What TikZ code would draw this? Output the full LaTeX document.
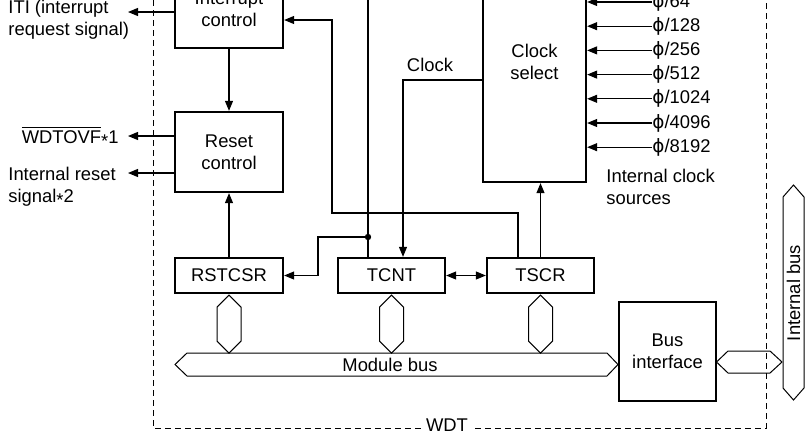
\documentclass[tikz,border=0pt]{standalone}
\usepackage{fontspec}
\setmainfont{Liberation Sans}
\newfontfamily\phifont{DejaVu Sans}
\usetikzlibrary{arrows.meta}
\newcommand{\mystar}{\raisebox{-0.22em}{*}}
\begin{document}
\begin{tikzpicture}[x=0.5pt,y=-0.5pt,
  every node/.style={font=\fontsize{9.2}{11.2}\selectfont},
  blk/.style={draw,line width=1.15pt,align=center,inner sep=0pt},
  conn/.style={line width=0.55pt},
  arr/.style={conn,-{Triangle[length=5pt,width=4pt]}},
  darr/.style={conn,{Triangle[length=5pt,width=4pt]}-{Triangle[length=5pt,width=4pt]}},
  busline/.style={line width=0.5pt},
  wdtline/.style={line width=0.5pt,dash pattern=on 3pt off 2pt},
  lbl/.style={align=left,inner sep=0pt}]
\useasboundingbox (0,0) rectangle (809,434);
\clip (0,0) rectangle (809,434);

% WDT boundary
\draw[wdtline] (153,-20) -- (153,428) -- (766,428) -- (766,-20);
\node[fill=white,inner sep=1.5pt] (wdt) at (447,425.5) {WDT};

% blocks
\node[blk,minimum width=54pt,minimum height=39pt] (intc) at (229,9) {Interrupt\\control};
\node[blk,minimum width=54pt,minimum height=40pt] (rstc) at (229,152) {Reset\\control};
\node[blk,minimum width=51.5pt,minimum height=120pt] (clks) at (534.5,62) {Clock\\select};
\node[blk,minimum width=54pt,minimum height=17.5pt] (rstcsr) at (229,275.5) {RSTCSR};
\node[blk,minimum width=53.5pt,minimum height=17.5pt] (tcnt) at (391.5,275.5) {TCNT};
\node[blk,minimum width=53.5pt,minimum height=17.5pt] (tscr) at (540.5,275.5) {TSCR};
\node[blk,minimum width=48.5pt,minimum height=49.5pt] (bif) at (667.5,351.5) {Bus\\interface};

% external signals on the left
\node[lbl,anchor=west] (itil) at (8,20) {ITI (interrupt\\request signal)};
\node[lbl,anchor=east] (wdtovf) at (119,137) {$\overline{\mbox{WDTOVF}}$\mystar1};
\node[lbl,anchor=west] (irst) at (8,187) {Internal reset\\signal\mystar2};
\coordinate (itiend) at (128,12);
\coordinate (wdend) at (128,136);
\coordinate (irend) at (128,173);
\draw[arr] (intc.west |- itiend) -- (itiend);
\draw[arr] (rstc.west |- wdend) -- (wdend);
\draw[arr] (rstc.west |- irend) -- (irend);

% internal connections
\draw[arr] (intc.south) -- (rstc.north);
\draw[arr] (rstcsr.north) -- (rstc.south);
\draw[arr] ([xshift=-11.25pt]tscr.north) |- (332,213) |- ([yshift=-5.5pt]intc.east);
\coordinate (ovf) at (368,-20);
\draw[conn] (tcnt.north -| ovf) -- (ovf);
\coordinate (jn) at (368,237);
\fill (jn) circle (1.6pt);
\draw[arr] (jn) -- (318,237) |- (rstcsr.east);
\draw[arr] ([yshift=-9pt]clks.west) -| ([xshift=5.75pt]tcnt.north);
\node (clk) at (430,65) {Clock};
\draw[darr] (tcnt.east) -- (tscr.west);
\draw[arr] (tscr.north) -- (tscr.north |- clks.south);

% clock sources
\foreach \i/\t in {0/64,1/128,2/256,3/512,4/1024,5/4096,6/8192} {
  \node[inner sep=0pt,anchor=west] (cs\i) at (652,{2+24.2*\i}) {{\phifont ϕ}/\t};
  \draw[arr] (cs\i.west) -- (clks.east |- cs\i.west);
}
\node[lbl,anchor=west] (ics) at (606,187) {Internal clock\\sources};

% bus connectors
\foreach \n in {rstcsr,tcnt,tscr}
  \draw[busline] ([yshift=-0.5pt]\n.south) -- ++(12,12) -- ++(0,34) -- ++(-12,12) -- ++(-12,-12) -- ++(0,-34) -- cycle;
\draw[busline] (175,364.5) -- (187,353) -- (607,353) -- (618,364.5) -- (607,376) -- (187,376) -- cycle;
\node (mbus) at (390,364.5) {Module bus};
\draw[busline] (716.5,362) -- (728,351) -- (770,351) -- (782,362) -- (770,373) -- (728,373) -- cycle;
\draw[busline] (793.5,185) -- (804,197) -- (804,388) -- (793.5,400) -- (783,388) -- (783,197) -- cycle;
\node[rotate=90] (ibus) at (793.5,293) {Internal bus};
\end{tikzpicture}
\end{document}
